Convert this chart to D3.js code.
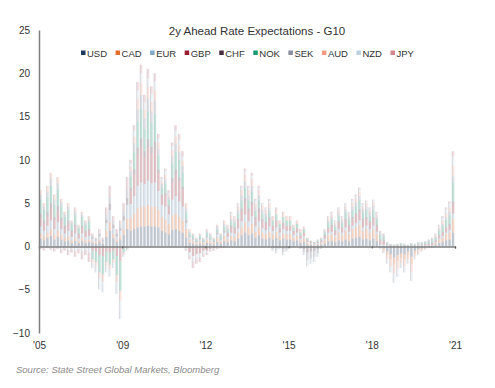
<!DOCTYPE html>
<html>
<head>
<meta charset="utf-8">
<script src="https://cdn.jsdelivr.net/npm/d3@7"></script>
<style>
body { margin: 0; background: #fff; }
text { font-family: "Liberation Sans", Arial, sans-serif; }
</style>
</head>
<body>
<svg id="chart" width="495" height="388"></svg>
<script>
// currencies in stack order (bottom to top) and their legend colours
var currencies = ["USD", "CAD", "EUR", "GBP", "CHF", "NOK", "SEK", "AUD", "NZD", "JPY"];
var colors = ["#1f3a5f", "#e46c2a", "#7fa7c9", "#9b1c2c", "#4a2c40", "#1a9a72", "#8a8d9e", "#f29b80", "#bcd2e0", "#d4868f"];

// x axis labels and the period index where each one sits
var xTickLabels = ["'05", "'09", "'12", "'15", "'18", "'21"];
var xTickIdx = [0, 24, 48, 72, 96, 120];
var yTicks = [-10, -5, 0, 5, 10, 15, 20, 25];

// contribution of each currency to the 2y ahead expectation, one value per period
var USD = [.9,.7,1.0,1.2,.8,1.1,.8,.6,.7,.4,.6,.4,.6,.4,.5,
    .4,.3,.5,.3,1.1,1.8,.9,.5,.8,1.3,2.0,
    1.8,2.0,2.2,2.3,2.3,2.4,2.3,2.3,2.2,1.8,1.6,1.4,1.9,2.0,1.8,1.6,
    1.0,.4,.3,.2,.3,.2,.4,.3,.2,.5,.3,.6,
    .5,.7,.6,.9,1.3,1.6,1.3,1.5,1.0,1.3,.9,.8,1.0,
    .8,1.0,.7,.9,.8,.8,.6,.7,.4,.5,.2,.2,.1,.2,.2,
    .3,.6,.6,.5,.7,.6,.8,.6,.9,1.0,1.1,.8,.9,.7,.9,.6,
    -.1,-.2,-.6,-.9,-1.3,-1.0,-.8,-.9,-.6,-1.2,-.5,-.3,-.2,-.1,-.1,-.1,
    .2,.4,.5,.7,.8,1.6];
var CAD = [.6,.5,.6,.8,.5,.7,.5,.4,.5,.3,.4,.2,.4,.3,.3,
    .2,.2,.3,.1,.7,1.0,.5,.3,.4,.7,1.2,
    1.5,1.8,2.2,2.3,2.3,2.4,2.3,2.3,2.0,1.6,1.5,1.2,1.7,1.8,1.6,1.4,
    1.0,.4,.3,.2,.3,.2,.4,.3,.2,.5,.3,.6,
    .3,.5,.5,.7,.9,1.2,.9,1.1,.7,.9,.7,.6,.7,
    .6,.7,.5,.6,.6,.6,.4,.5,.3,.4,.2,.1,.1,.1,.2,
    .4,.7,.8,.6,.9,.7,1.0,.8,1.1,1.2,1.4,1.0,1.1,.9,1.1,.8,
    0,-.2,-.4,-.6,-.8,-.7,-.5,-.6,-.4,-.8,-.3,-.2,-.1,-.1,0,0,
    .2,.4,.5,.7,.8,1.6];
var EUR = [.8,.6,.8,1.0,.7,1.0,.7,.5,.6,.4,.5,.3,.5,.4,.4,
    .3,.2,.4,.2,.9,1.4,.7,.4,.6,1.0,1.6,
    1.6,2.0,2.6,2.8,2.6,2.8,2.7,2.8,2.2,1.4,1.5,1.1,1.8,2.0,1.8,1.6,
    .7,.3,.2,.1,.2,.1,.3,.2,.1,.4,.2,.4,
    .3,.4,.4,.5,.7,.9,.7,.9,.6,.7,.5,.5,.6,
    .4,.5,.4,.5,.4,.4,.3,.4,.2,.3,.1,.1,.1,.1,.1,
    .2,.3,.3,.2,.4,.3,.4,.3,.4,.5,.5,.4,.4,.4,.4,.3,
    .2,.2,.1,0,0,0,0,0,0,0,0,.1,.1,.1,.1,.1,
    .1,.1,.2,.2,.3,.6];
var GBP = [1.0,.8,1.1,1.4,1.0,1.3,.9,.6,.8,.5,.7,.4,.6,.5,.6,
    -.5,-.6,-1.0,-1.1,-.6,-.7,-.5,-1.1,-1.7,-.2,-.1,
    1.5,2.5,3.6,4.1,3.1,3.9,3.4,3.8,2.0,1.0,1.3,.8,2.0,2.5,2.3,1.9,
    -.2,-.7,-1.1,-.9,-.8,-.5,-.5,-.3,-.2,-.1,-.1,-.1,
    .4,.6,.5,.8,1.1,1.4,1.1,1.3,.8,1.1,.8,.7,.8,
    .6,.8,.5,.7,.6,.6,.5,.5,.4,.4,.2,.1,.1,.1,.2,
    .3,.5,.6,.5,.7,.5,.8,.6,.8,.9,1.0,.8,.8,.7,.8,.6,
    .5,.4,.1,.1,.1,.1,.1,.1,.1,.1,.1,.1,.1,.2,.2,.3,
    .2,.3,.4,.5,.5,1.1];
var CHF = [.5,.4,.5,.6,.4,.6,.4,.3,.4,.2,.3,.2,.3,.2,.2,
    .2,.1,.2,.1,.4,.7,.4,.2,.3,.5,.8,
    .4,.6,.8,1.0,.7,.9,.8,.9,.5,.2,.3,.2,.5,.6,.5,.4,
    .4,.1,.1,.1,.1,.1,.1,.1,.1,.2,.1,.2,
    .1,.2,.2,.3,.4,.5,.4,.4,.3,.4,.3,.2,.3,
    -.1,-.2,-.1,-.3,-.2,0,0,0,-.1,-.3,-.7,-.6,-.5,-.3,-.1,
    .1,.1,.2,.1,.2,.1,.2,.2,.2,.2,.3,.2,.2,.2,.2,.2,
    .1,.1,0,0,0,0,0,0,0,0,0,0,0,0,0,0,
    0,.1,.1,.1,.2,.3];
var NOK = [1.6,1.2,1.7,2.0,1.4,1.9,1.3,1.0,1.2,.7,1.1,.6,1.0,.7,.8,
    -1.0,-1.2,-2.0,-2.1,-1.2,-1.4,-1.0,-2.2,-3.4,-.5,-.2,
    1.3,2.0,3.0,3.4,2.6,3.2,2.8,3.2,1.6,.8,1.1,.7,1.7,2.0,2.0,1.6,
    .8,.3,.3,.2,.3,.2,.4,.3,.2,.4,.3,.5,
    .3,.5,.5,.6,.9,1.2,.9,1.1,.7,.9,.6,.6,.7,
    .6,.7,.5,.7,.6,.6,.4,.5,.3,.4,.2,.1,.1,.2,.2,
    .3,.5,.6,.4,.6,.5,.7,.6,.8,.8,1.0,.7,.8,.6,.8,.6,
    .5,.4,.2,.1,.1,.1,.2,.1,.1,.2,.1,.2,.2,.2,.3,.3,
    .3,.5,.7,.9,1.0,2.2];
var SEK = [.6,.4,.6,.8,.6,.7,.5,.3,.4,.3,.4,.2,.3,.3,.3,
    .2,.1,.2,.1,.6,.8,.4,.2,.4,.6,1.0,
    .6,1.0,1.4,1.6,1.2,1.5,1.3,1.5,.8,.4,.5,.3,.8,1.0,.9,.8,
    .5,.2,.2,.1,.2,.1,.2,.2,.1,.3,.2,.3,
    .2,.3,.3,.4,.6,.7,.6,.7,.4,.6,.4,.4,.4,
    -.2,-.3,-.1,-.4,-.2,-.1,0,0,-.1,-.4,-.9,-.8,-.7,-.5,-.1,
    .2,.3,.3,.2,.4,.3,.4,.3,.4,.5,.5,.4,.4,.4,.5,.3,
    .3,.2,.1,.1,0,.1,.1,.1,0,.1,.1,.1,.1,.1,.1,.2,
    .1,.2,.2,.3,.4,.8];
var AUD = [.5,.4,.7,.7,.6,.7,.4,.3,.4,.2,.5,.2,.3,.2,.4,
    -.4,-.4,-.7,-.8,-.4,-.5,-.4,-.8,-1.2,-.2,-.1,
    .5,.8,1.2,1.4,1.0,1.3,1.1,1.3,.7,.3,.5,.3,.7,.8,.8,.6,
    .6,.3,.1,.1,.1,.1,.2,.1,.1,.2,.1,.4,
    .2,.4,.3,.4,.6,.8,.6,.8,.5,.6,.5,.4,.5,
    .4,.5,.3,.4,.4,.4,.2,.3,.3,.2,.1,.1,0,.1,.1,
    .1,.3,.3,.2,.3,.2,.3,.3,.4,.4,.5,.3,.4,.3,.4,.3,
    -.1,-.2,-.5,-.8,-1.0,-.9,-.6,-.8,-.5,-1.0,-.4,-.3,-.2,-.1,-.1,-.1,
    .2,.2,.4,.4,.5,1.1];
var NZD = [-.1,-.2,-.1,-.2,-.2,-.1,-.3,-.2,-.4,-.3,-.5,-.3,-.6,-.4,-.7,
    -.6,-.8,-1.3,-1.3,-.8,-.9,-.6,-1.4,-2.1,-.3,-.1,
    .4,.7,1.0,1.1,.8,1.0,.9,1.0,.5,.3,.4,.2,.5,.7,.6,.5,
    -.1,-.4,-.6,-.5,-.5,-.3,-.2,-.1,-.1,-.1,0,0,
    .1,.2,.1,.3,.3,.4,.3,.4,.3,.3,.2,.2,.3,
    -.2,-.3,-.1,-.3,-.2,-.1,0,0,-.1,-.3,-.7,-.6,-.6,-.4,-.1,
    .1,.1,.2,.2,.2,.2,.3,.2,.3,.3,.3,.3,.2,.2,.2,.2,
    -.1,-.2,-.5,-.7,-1.1,-.9,-.6,-.7,-.5,-1.0,-.3,-.2,-.1,-.1,0,0,
    .1,.2,.3,.5,.5,1.1];
var JPY = [-.2,-.3,-.1,-.2,-.4,-.2,-.5,-.3,-.6,-.4,-.7,-.5,-.9,-.6,-1.1,
    .2,.1,.4,.2,.8,1.3,.6,.4,.5,.9,1.4,
    .4,.6,1.0,1.0,.9,1.1,.9,.9,.5,.2,.3,.3,.4,.6,.7,.6,
    -.2,-.4,-.8,-.6,-.5,-.4,-.3,-.2,-.2,-.1,-.1,-.1,
    .1,.2,.1,.1,.2,.3,.2,.3,.2,.2,.1,.1,.2,
    .1,.3,.1,.2,.1,.1,.1,.1,.1,.1,0,0,0,0,0,
    0,.1,.1,.1,.1,.1,.1,.1,.2,.2,.2,.1,.1,.1,.1,.1,
    .2,.2,0,0,0,0,0,0,0,0,0,0,0,0,.1,.1,
    .1,.1,.2,.2,.2,.6];

var seriesData = { USD: USD, CAD: CAD, EUR: EUR, GBP: GBP, CHF: CHF,
    NOK: NOK, SEK: SEK, AUD: AUD, NZD: NZD, JPY: JPY };
var nPeriods = USD.length;

var svg = d3.select("#chart");

var x = d3.scaleLinear().domain([0, 120]).range([39, 455]);
var y = d3.scaleLinear().domain([-10, 25]).range([333, 30]);
var color = d3.scaleOrdinal().domain(currencies).range(colors);

// one row per period for d3.stack
var rows = d3.range(nPeriods).map(function(i) {
    var r = { idx: i };
    currencies.forEach(function(c) { r[c] = seriesData[c][i] || 0; });
    return r;
});

var layers = d3.stack()
    .keys(currencies)
    .offset(d3.stackOffsetDiverging)(rows);

var step = x(1) - x(0);

// stacked bars, pale like the original export
svg.append("g").selectAll("g.layer")
    .data(layers)
    .enter().append("g")
    .attr("class", "layer")
    .attr("fill", function(d) { return color(d.key); })
    .attr("fill-opacity", 0.27)
    .selectAll("rect")
    .data(function(d) { return d; })
    .enter().append("rect")
    .attr("x", function(d) { return x(d.data.idx) + 0.6; })
    .attr("width", step - 1.3)
    .attr("y", function(d) { return y(Math.max(d[0], d[1])); })
    .attr("height", function(d) { return Math.abs(y(d[0]) - y(d[1])); });

// thin grey edge on each bar (the original shows faint column borders)
svg.append("g").selectAll("line")
    .data(rows)
    .enter().append("line")
    .attr("x1", function(d) { return x(d.idx) + 0.6; })
    .attr("x2", function(d) { return x(d.idx) + 0.6; })
    .attr("y1", function(d) {
        var pos = d3.sum(currencies, function(c) { return Math.max(d[c], 0); });
        return y(pos);
    })
    .attr("y2", function(d) {
        var neg = d3.sum(currencies, function(c) { return Math.min(d[c], 0); });
        return y(neg);
    })
    .attr("stroke", "#9a9aa6")
    .attr("stroke-opacity", 0.45)
    .attr("stroke-width", 0.7);

// zero line with small ticks
var zeroAxis = svg.append("g")
    .attr("transform", "translate(0," + y(0) + ")")
    .call(d3.axisBottom(x).tickValues(xTickIdx.slice(1)).tickSize(2).tickFormat(""));
zeroAxis.select(".domain").attr("stroke", "#7f7f7f").attr("stroke-width", 1.5);
zeroAxis.selectAll(".tick line").attr("stroke", "#555");

// y axis
var yAxis = svg.append("g")
    .attr("transform", "translate(39,0)")
    .call(d3.axisLeft(y).tickValues(yTicks).tickSize(0).tickPadding(9));
yAxis.select(".domain").attr("stroke", "#7f7f7f").attr("stroke-width", 1.5);
yAxis.selectAll("text").attr("font-size", "10px").attr("fill", "#333");

// x labels under the plot
var xAxis = svg.append("g")
    .attr("transform", "translate(0,333)")
    .call(d3.axisBottom(x).tickValues(xTickIdx).tickSize(0).tickPadding(9)
        .tickFormat(function(d, i) { return xTickLabels[i]; }));
xAxis.select(".domain").remove();
xAxis.selectAll("text").attr("font-size", "10px").attr("fill", "#333");

// title
svg.append("text")
    .attr("x", 257)
    .attr("y", 35)
    .attr("text-anchor", "middle")
    .attr("font-size", "11.5px")
    .attr("fill", "#333")
    .text("2y Ahead Rate Expectations - G10");

// legend
var legend = svg.append("g").attr("class", "legend");
var lx = 81;
currencies.forEach(function(c, i) {
    legend.append("rect")
        .attr("x", lx)
        .attr("y", 50.5)
        .attr("width", 4.5)
        .attr("height", 4.5)
        .attr("fill", colors[i]);
    var t = legend.append("text")
        .attr("x", lx + 6)
        .attr("y", 56.5)
        .attr("font-size", "9.5px")
        .attr("fill", "#333")
        .text(c);
    lx += 6 + t.node().getComputedTextLength() + 8.5;
});

// source note
svg.append("text")
    .attr("x", 16)
    .attr("y", 373)
    .attr("font-size", "9.5px")
    .attr("font-style", "italic")
    .attr("fill", "#8c8c8c")
    .text("Source: State Street Global Markets, Bloomberg");
</script>
</body>
</html>
